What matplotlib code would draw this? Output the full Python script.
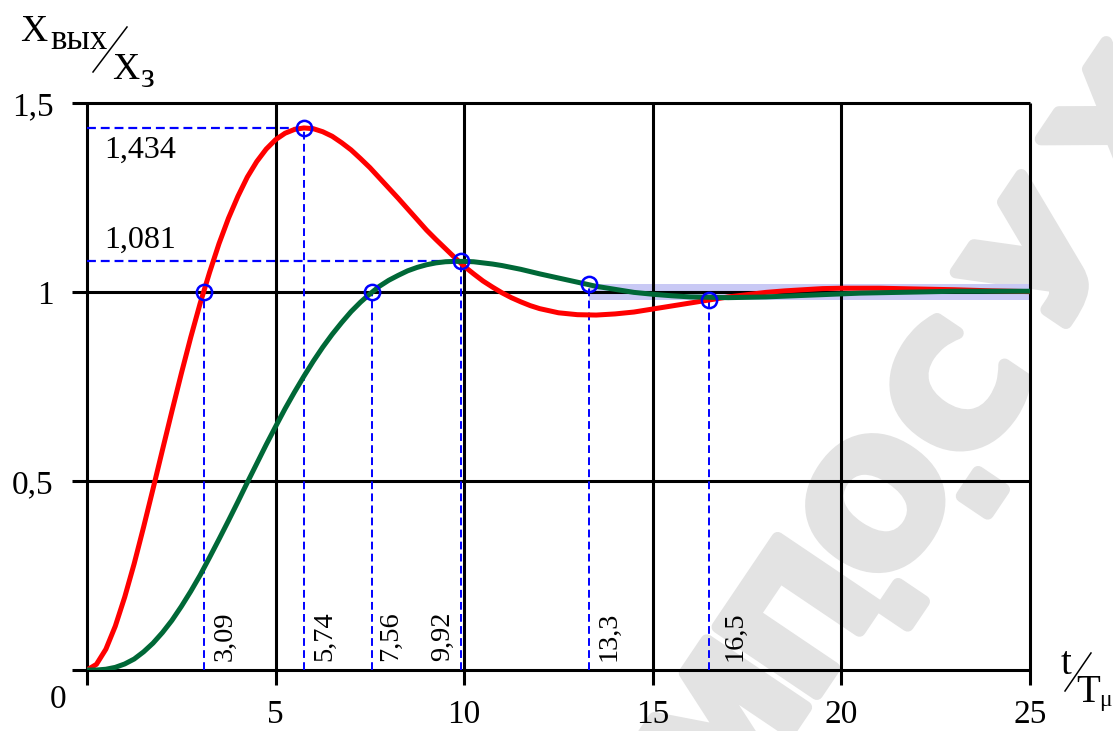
import matplotlib.pyplot as plt
import matplotlib.patheffects as pe
from matplotlib.lines import Line2D

# values (t / Tμ)
t_red = [0, 0.25, 0.5, 0.75, 1, 1.25, 1.5, 1.75, 2, 2.25, 2.5, 2.75, 3, 3.25, 3.5, 3.75,
         4, 4.25, 4.5, 4.75, 5, 5.25, 5.5, 5.75, 6, 6.25, 6.5, 6.75, 7, 7.25, 7.5, 7.75,
         8, 8.25, 8.5, 8.75, 9, 9.25, 9.5, 9.75, 10, 10.25, 10.5, 10.75, 11, 11.25, 11.5,
         11.75, 12, 12.5, 13, 13.5, 14, 14.5, 15, 15.5, 16, 16.5, 17, 17.5, 18, 18.5, 19,
         19.5, 20, 20.5, 21, 22, 23, 24, 25]
y_red = [0, 0.015, 0.055, 0.116, 0.193, 0.281, 0.378, 0.479, 0.582, 0.684, 0.784, 0.880,
         0.970, 1.052, 1.128, 1.195, 1.253, 1.304, 1.345, 1.378, 1.403, 1.420, 1.430, 1.434,
         1.432, 1.424, 1.412, 1.395, 1.376, 1.353, 1.329, 1.302, 1.275, 1.248, 1.220, 1.192,
         1.164, 1.139, 1.115, 1.091, 1.068, 1.048, 1.029, 1.013, 0.998, 0.985, 0.974, 0.964,
         0.956, 0.945, 0.940, 0.939, 0.942, 0.947, 0.955, 0.963, 0.971, 0.979, 0.987, 0.993,
         0.999, 1.003, 1.006, 1.009, 1.010, 1.010, 1.010, 1.008, 1.006, 1.003, 1.001]

t_green = t_red
y_green = [0, 0.000, 0.002, 0.007, 0.016, 0.029, 0.048, 0.071, 0.099, 0.131, 0.168, 0.208,
           0.251, 0.298, 0.346, 0.395, 0.445, 0.496, 0.546, 0.596, 0.644, 0.691, 0.735, 0.777,
           0.817, 0.854, 0.888, 0.919, 0.948, 0.973, 0.995, 1.015, 1.031, 1.044, 1.056, 1.065,
           1.072, 1.077, 1.080, 1.081, 1.081, 1.080, 1.077, 1.074, 1.070, 1.065, 1.060, 1.054,
           1.048, 1.037, 1.026, 1.015, 1.007, 0.999, 0.994, 0.990, 0.987, 0.986, 0.985, 0.986,
           0.987, 0.989, 0.991, 0.993, 0.995, 0.997, 0.998, 1.000, 1.002, 1.002, 1.002]

# marked points and their labels
mark_t = [3.09, 5.74, 7.56, 9.92, 13.3, 16.5]
mark_y = [1.0, 1.434, 1.0, 1.081, 1.02, 0.98]
mark_lbl = ['3,09', '5,74', '7,56', '9,92', '13,3', '16,5']
mark_lbl_x = [3.66, 6.31, 8.04, 9.42, 13.85, 17.19]

level_y = [1.434, 1.081]
level_t = [5.74, 9.92]
level_lbl = ['1,434', '1,081']
level_lbl_y = [1.376, 1.138]

band = (13.3, 25, 0.98, 1.02)

x_ticks = [5, 10, 15, 20, 25]
y_ticks = [0.5, 1, 1.5]
y_tick_lbl = ['0,5', '1', '1,5']

# watermark letters and where their centres sit (picture pixels)
wm_chars = ['М', 'П', '.', 'О', '.', 'С', 'У', 'Х']
wm_px = [(731, 737), (809, 624), (878, 588), (887, 511), (958, 476), (965, 398),
         (1050, 265), (1135, 132)]

plt.rcParams['font.family'] = ['Liberation Serif', 'DejaVu Serif']

W, H = 1113, 731
fig = plt.figure(figsize=(W / 100, H / 100), dpi=100)
ax = fig.add_axes([87 / W, 1 - 670 / H, (1030 - 87) / W, (670 - 103) / H])
ax.set_xlim(0, 25)
ax.set_ylim(0, 1.5)
ax.axis('off')
ax.patch.set_alpha(0)

# watermark behind everything
for ch, (px, py) in zip(wm_chars, wm_px):
    fig.text(px / W, 1 - py / H, ch, rotation=56, rotation_mode='anchor',
             ha='center', va='center', fontsize=118, fontweight='bold',
             family=['Liberation Sans Narrow', 'DejaVu Sans'], color='#e3e3e3', zorder=-5,
             path_effects=[pe.withStroke(linewidth=9, foreground='#e3e3e3')])

# black frame + grid, running a bit past the axes like in the original
for yv in [0] + y_ticks:
    ax.plot([-0.4, 25], [yv, yv], color='black', lw=2.2, clip_on=False, zorder=2,
            solid_capstyle='butt')
for xv in [0] + x_ticks:
    ax.plot([xv, xv], [-0.04, 1.5], color='black', lw=2.2, clip_on=False, zorder=2,
            solid_capstyle='butt')

# ±2% band
ax.fill_between([band[0], band[1]], band[2], band[3], color='#c9c9f5', lw=0, zorder=1)

# blue helper lines
for yv, tv in zip(level_y, level_t):
    ax.plot([0, tv], [yv, yv], color='#0000ff', lw=1.6, dashes=(4, 2.2), zorder=3)
for tv, yv in zip(mark_t, mark_y):
    ax.plot([tv, tv], [0, yv], color='#0000ff', lw=1.4, dashes=(4, 2.2), zorder=3)

ax.plot(t_red, y_red, color='#ff0000', lw=3.6, zorder=4, solid_joinstyle='round')
ax.plot(t_green, y_green, color='#006837', lw=3.6, zorder=4, solid_joinstyle='round')

ax.plot(mark_t, mark_y, 'o', ms=11, mfc='none', mec='#0000ff', mew=1.8, zorder=5,
        clip_on=False)

for lbl, yl in zip(level_lbl, level_lbl_y):
    ax.text(0.45, yl, lbl, fontsize=23, ha='left', va='center', zorder=6)
for lbl, xl in zip(mark_lbl, mark_lbl_x):
    ax.text(xl, 0.025, lbl, fontsize=20.5, rotation=90, ha='center', va='bottom', zorder=6)

# tick labels (sitting right on the bottom edge, as in the original)
for xv in x_ticks:
    ax.text(xv, -0.159, str(xv), fontsize=24, ha='center', va='bottom', clip_on=False)
ax.text(-0.77, -0.08, '0', fontsize=24, ha='center', va='center', clip_on=False)
for yv, lbl in zip(y_ticks, y_tick_lbl):
    ax.text(-0.88, yv - 0.01, lbl, fontsize=24, ha='right', va='center', clip_on=False)

# axis titles  X_вых / X_з  and  t / T_μ
fig.text(20 / W, 1 - 41 / H, 'X', fontsize=27, ha='left', va='baseline')
fig.text(50 / W, 1 - 49 / H, 'вых', fontsize=25, ha='left', va='baseline')
fig.add_artist(Line2D([93 / W, 127 / W], [1 - 72 / H, 1 - 27 / H], color='black', lw=1.1))
fig.text(112 / W, 1 - 79 / H, 'X', fontsize=27, ha='left', va='baseline')
fig.text(140 / W, 1 - 87 / H, 'з', fontsize=25, ha='left', va='baseline')

fig.text(1061 / W, 1 - 674 / H, 't', fontsize=28, ha='left', va='baseline')
fig.add_artist(Line2D([1065 / W, 1091 / W], [1 - 691 / H, 1 - 653 / H], color='black', lw=1.1))
fig.text(1076 / W, 1 - 702 / H, 'T', fontsize=28, ha='left', va='baseline')
fig.text(1099 / W, 1 - 706 / H, 'μ', fontsize=17, ha='left', va='baseline')

plt.savefig('out.png', dpi=100)
